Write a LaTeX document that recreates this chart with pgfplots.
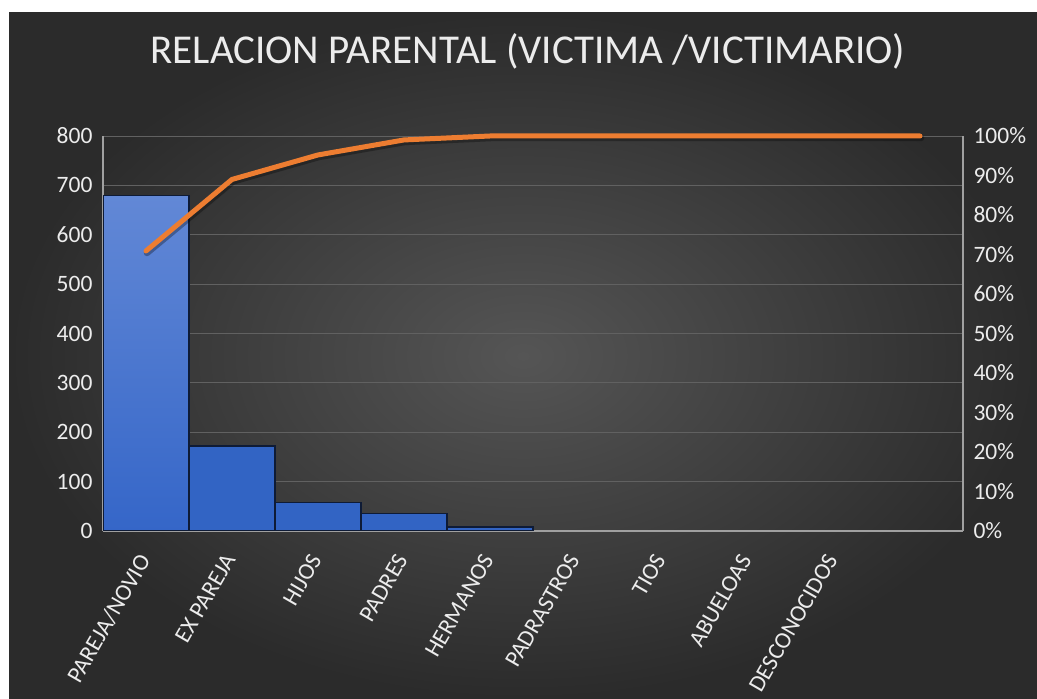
\documentclass[border=0pt]{standalone}
\usepackage{pgfplots}
\usepackage{pgfplotstable}
\pgfplotsset{compat=1.18}
\usepackage{fontspec}
\setmainfont{Carlito}

\definecolor{bgin}{HTML}{555555}
\definecolor{bgout}{HTML}{2B2B2B}
\definecolor{gridc}{HTML}{616161}
\definecolor{axc}{HTML}{A0A0A0}
\definecolor{txt}{HTML}{ECECEC}
\definecolor{bartop}{HTML}{6288D6}
\definecolor{barbot}{HTML}{3566C8}
\definecolor{barfill}{HTML}{3264C4}
\definecolor{baredge}{HTML}{0E1B36}
\definecolor{pareto}{HTML}{ED7D31}

\pgfplotstableread{
  cat pct
  0 70.9
  1 89.0
  2 95.2
  3 99.0
  4 100
  5 100
  6 100
  7 100
  8 100
  9 100
}\paretodata

\pgfplotsset{
  common/.style={
    at={(103pt,168pt)}, anchor=south west,
    scale only axis, width=860pt, height=395pt,
    xmin=-0.5, xmax=9.5,
    major tick length=0pt,
    /pgf/number format/assume math mode=true,
    tick label style={font=\fontsize{23.5}{28}\selectfont, text=txt},
    axis line style={draw=axc, line width=1.3pt},
  }
}

\begin{document}
\begin{tikzpicture}
% page and background
\fill[white] (0pt,0pt) rectangle (1037pt,699pt);
\shade[inner color=bgin, outer color=bgout] (9pt,0pt) rectangle (1037pt,686pt);

\node[anchor=base, text=txt, font=\fontsize{41}{48}\selectfont] at (528pt,635pt)
  {RELACION PARENTAL (VICTIMA /VICTIMARIO)};

\begin{axis}[common,
    ymin=0, ymax=800, ytick={0,100,...,800},
    xtick={0,...,9},
    xticklabels={PAREJA/NOVIO,EX PAREJA,HIJOS,PADRES,HERMANOS,PADRASTROS,TIOS,ABUELOAS,DESCONOCIDOS,{}},
    x tick label style={xshift=-9pt, yshift=-21pt, rotate=60, anchor=north east, inner sep=0pt},
    y tick label style={xshift=-7pt},
    axis x line*=bottom, axis y line*=left,
    ymajorgrids, grid style={draw=gridc, line width=0.9pt},
  ]
  % first bar with the light gradient
  \addplot[ybar, bar width=1, bar shift=0pt, draw=baredge, line width=1.2pt,
           shading=axis, top color=bartop, bottom color=barbot]
    coordinates {(0,680)};
  \addplot[ybar, bar width=1, bar shift=0pt, draw=baredge, line width=1.2pt, fill=barfill]
    coordinates {(1,172) (2,57) (3,36) (4,8)};
  % categories with no cases (nothing visible)
  \addplot[ybar, bar width=1, bar shift=0pt, draw=none, fill=none]
    coordinates {(5,0) (6,0) (7,0) (8,0) (9,0)};
\end{axis}

\begin{axis}[common,
    ymin=0, ymax=100, ytick={0,10,...,100},
    yticklabel={\pgfmathprintnumber{\tick}\%},
    y tick label style={xshift=7pt},
    axis y line*=right, axis x line=none,
    clip=false,
  ]
  % soft shadow under the cumulative line
  \addplot[black, opacity=0.3, line width=6.5pt, line join=round, line cap=round,
           xshift=1pt, yshift=-2pt, forget plot] table[x=cat, y=pct] {\paretodata};
  \addplot[pareto, line width=5pt, line join=round, line cap=round]
    table[x=cat, y=pct] {\paretodata};
\end{axis}
\end{tikzpicture}
\end{document}
